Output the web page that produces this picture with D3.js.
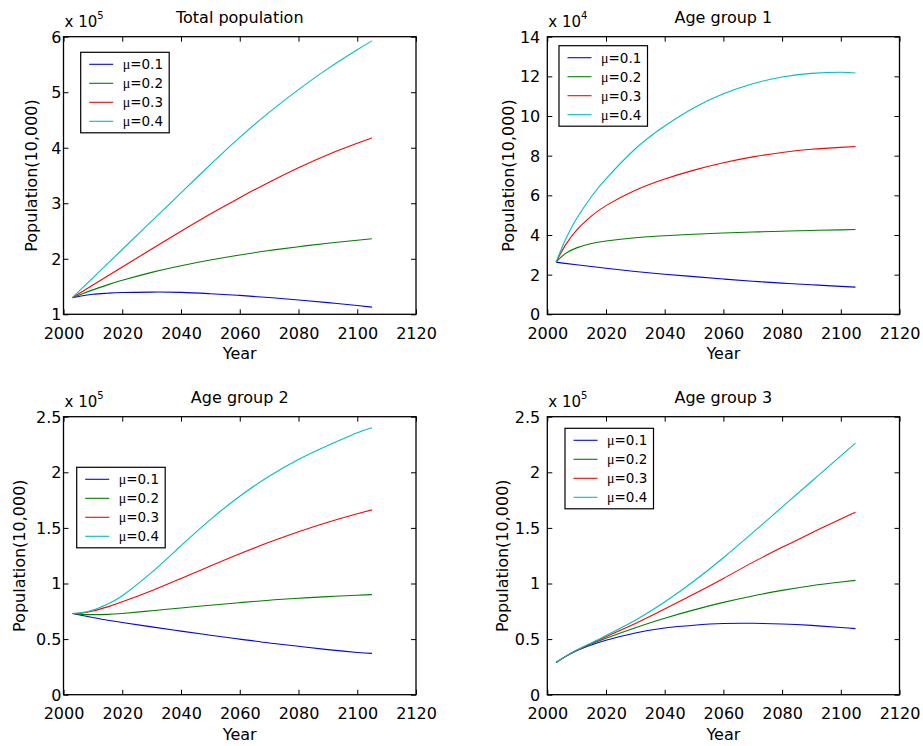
<!DOCTYPE html>
<html><head><meta charset="utf-8">
<script src="https://cdn.jsdelivr.net/npm/d3@7/dist/d3.min.js"></script>
<style>
html,body{margin:0;padding:0;background:#fff;}
svg text{font-family:"DejaVu Sans","Liberation Sans",Arial,sans-serif;fill:#000;}
</style></head>
<body><svg id="c" width="923" height="746"></svg>
<script>
// ---------- data ----------
const years = [2003, 2006, 2010, 2015, 2020, 2030, 2040, 2050, 2060, 2070, 2080, 2090, 2100, 2105];
const muLabels = ["0.1", "0.2", "0.3", "0.4"];
const xTicks = [2000, 2020, 2040, 2060, 2080, 2100, 2120];

// Total population (x 10^5)
const total_mu01 = [1.30, 1.33, 1.36, 1.38, 1.393, 1.40, 1.395, 1.37, 1.34, 1.302, 1.258, 1.21, 1.158, 1.13];
const total_mu02 = [1.30, 1.362, 1.44, 1.53, 1.612, 1.755, 1.875, 1.978, 2.068, 2.148, 2.218, 2.28, 2.335, 2.36];
const total_mu03 = [1.30, 1.398, 1.528, 1.69, 1.852, 2.175, 2.495, 2.805, 3.10, 3.38, 3.64, 3.875, 4.08, 4.175];
const total_mu04 = [1.30, 1.453, 1.657, 1.912, 2.167, 2.677, 3.187, 3.697, 4.187, 4.637, 5.047, 5.425, 5.765, 5.925];
const totalTicks = [1, 2, 3, 4, 5, 6];

// Age group 1 (x 10^4)
const age1_mu01 = [2.63, 2.57, 2.50, 2.41, 2.32, 2.16, 2.02, 1.90, 1.78, 1.67, 1.57, 1.49, 1.41, 1.37];
const age1_mu02 = [2.63, 3.05, 3.35, 3.57, 3.70, 3.86, 3.96, 4.04, 4.10, 4.15, 4.19, 4.23, 4.26, 4.28];
const age1_mu03 = [2.63, 3.45, 4.25, 4.95, 5.48, 6.25, 6.82, 7.27, 7.64, 7.94, 8.16, 8.32, 8.42, 8.46];
const age1_mu04 = [2.63, 3.71, 4.83, 5.93, 6.83, 8.35, 9.50, 10.42, 11.12, 11.63, 11.97, 12.15, 12.21, 12.17];
const age1Ticks = [0, 2, 4, 6, 8, 10, 12, 14];

// Age group 2 (x 10^5)
const age2_mu01 = [0.73, 0.715, 0.695, 0.67, 0.65, 0.61, 0.572, 0.535, 0.50, 0.465, 0.435, 0.405, 0.38, 0.372];
const age2_mu02 = [0.73, 0.722, 0.72, 0.722, 0.73, 0.755, 0.78, 0.805, 0.828, 0.85, 0.868, 0.882, 0.895, 0.90];
const age2_mu03 = [0.73, 0.734, 0.752, 0.79, 0.835, 0.935, 1.045, 1.157, 1.267, 1.37, 1.465, 1.551, 1.627, 1.662];
const age2_mu04 = [0.73, 0.737, 0.762, 0.815, 0.89, 1.10, 1.34, 1.575, 1.785, 1.965, 2.115, 2.24, 2.355, 2.40];
const age2Ticks = [0, 0.5, 1, 1.5, 2, 2.5];

// Age group 3 (x 10^5)
const age3_mu01 = [0.29, 0.34, 0.395, 0.447, 0.49, 0.555, 0.60, 0.625, 0.64, 0.642, 0.636, 0.623, 0.605, 0.594];
const age3_mu02 = [0.29, 0.34, 0.398, 0.456, 0.508, 0.603, 0.688, 0.763, 0.83, 0.888, 0.938, 0.98, 1.013, 1.028];
const age3_mu03 = [0.29, 0.34, 0.40, 0.462, 0.522, 0.64, 0.77, 0.905, 1.045, 1.19, 1.325, 1.455, 1.58, 1.64];
const age3_mu04 = [0.29, 0.34, 0.402, 0.466, 0.532, 0.67, 0.833, 1.022, 1.232, 1.457, 1.687, 1.917, 2.147, 2.262];
const age3Ticks = [0, 0.5, 1, 1.5, 2, 2.5];

// ---------- layout ----------
const colors = ["#0000ff", "#008000", "#ff0000", "#00bfbf"];
const panels = [
  {title: "Total population", series: [total_mu01, total_mu02, total_mu03, total_mu04], ticks: totalTicks, exp: "5",
   left: 63.5, right: 416, top: 36.7, bottom: 314.3, gap: 2, ylabX: 37, leg: [80.7, 52.3]},
  {title: "Age group 1", series: [age1_mu01, age1_mu02, age1_mu03, age1_mu04], ticks: age1Ticks, exp: "4",
   left: 547.3, right: 899.5, top: 36.7, bottom: 314.3, gap: 7, ylabX: 514, leg: [559, 45.7]},
  {title: "Age group 2", series: [age2_mu01, age2_mu02, age2_mu03, age2_mu04], ticks: age2Ticks, exp: "5",
   left: 63.5, right: 416, top: 416.7, bottom: 694.7, gap: 2, ylabX: 25, leg: [76.7, 467.3]},
  {title: "Age group 3", series: [age3_mu01, age3_mu02, age3_mu03, age3_mu04], ticks: age3Ticks, exp: "5",
   left: 547.3, right: 899.5, top: 416.7, bottom: 694.7, gap: 7, ylabX: 508, leg: [565, 428.3]}
];

const svg = d3.select("#c");
const FS = 16;

panels.forEach(p => {
  const x = d3.scaleLinear().domain([2000, 2120]).range([p.left, p.right]);
  const y = d3.scaleLinear().domain([p.ticks[0], p.ticks[p.ticks.length - 1]]).range([p.bottom, p.top]);
  const g = svg.append("g");
  const cx = (p.left + p.right) / 2;

  // lines
  const line = d3.line().x((d, i) => x(years[i])).y(d => y(d)).curve(d3.curveNatural);
  p.series.forEach((s, k) => {
    g.append("path").attr("d", line(s)).attr("fill", "none")
      .attr("stroke", colors[k]).attr("stroke-width", 1.1);
  });

  // axes
  const fmt = d => String(d);
  const xb = g.append("g").attr("transform", `translate(0,${p.bottom})`)
    .call(d3.axisBottom(x).tickValues(xTicks).tickFormat(fmt).tickSize(-5).tickSizeOuter(0).tickPadding(13));
  const xt = g.append("g").attr("transform", `translate(0,${p.top})`)
    .call(d3.axisTop(x).tickValues(xTicks).tickFormat("").tickSize(-5).tickSizeOuter(0));
  const yl = g.append("g").attr("transform", `translate(${p.left},0)`)
    .call(d3.axisLeft(y).tickValues(p.ticks).tickFormat(fmt).tickSize(-5).tickSizeOuter(0).tickPadding(p.gap));
  const yr = g.append("g").attr("transform", `translate(${p.right},0)`)
    .call(d3.axisRight(y).tickValues(p.ticks).tickFormat("").tickSize(-5).tickSizeOuter(0));
  [xb, xt, yl, yr].forEach(a => {
    a.select(".domain").remove();
    a.selectAll("line").attr("stroke", "#000").attr("stroke-width", 1);
    a.selectAll("text").attr("font-size", FS).attr("font-family", null).attr("fill", "#000");
  });
  yl.selectAll("text").attr("dy", "0.34em");

  g.append("rect").attr("x", p.left).attr("y", p.top)
    .attr("width", p.right - p.left).attr("height", p.bottom - p.top)
    .attr("fill", "none").attr("stroke", "#000").attr("stroke-width", 1.3);

  // texts
  g.append("text").attr("x", cx).attr("y", p.top - 14).attr("text-anchor", "middle")
    .attr("font-size", FS).text(p.title);
  g.append("text").attr("x", cx).attr("y", p.bottom + 45).attr("text-anchor", "middle")
    .attr("font-size", FS).text("Year");
  g.append("text").attr("transform", `translate(${p.ylabX},${(p.top + p.bottom) / 2}) rotate(-90)`)
    .attr("text-anchor", "middle").attr("font-size", FS).text("Population(10,000)");
  const ex = g.append("text").attr("x", p.left + 1).attr("y", p.top - 10).attr("font-size", 15);
  ex.append("tspan").text("x 10");
  ex.append("tspan").attr("dy", -8).attr("font-size", 10).text(p.exp);

  // legend
  const [lx, ly] = p.leg;
  const lg = g.append("g");
  lg.append("rect").attr("x", lx).attr("y", ly).attr("width", 88.5).attr("height", 80.5)
    .attr("fill", "#fff").attr("stroke", "#000").attr("stroke-width", 1.2);
  muLabels.forEach((m, k) => {
    const ry = ly + 12 + k * 19;
    lg.append("line").attr("x1", lx + 8.5).attr("x2", lx + 32.5).attr("y1", ry).attr("y2", ry)
      .attr("stroke", colors[k]).attr("stroke-width", 1.1);
    const t = lg.append("text").attr("x", lx + 42).attr("y", ry + 5).attr("font-size", 13.5);
    t.append("tspan").attr("font-family", "'Liberation Serif','DejaVu Serif',serif").attr("font-size", 14).text("μ");
    t.append("tspan").text("=" + m);
  });
});
</script></body></html>
